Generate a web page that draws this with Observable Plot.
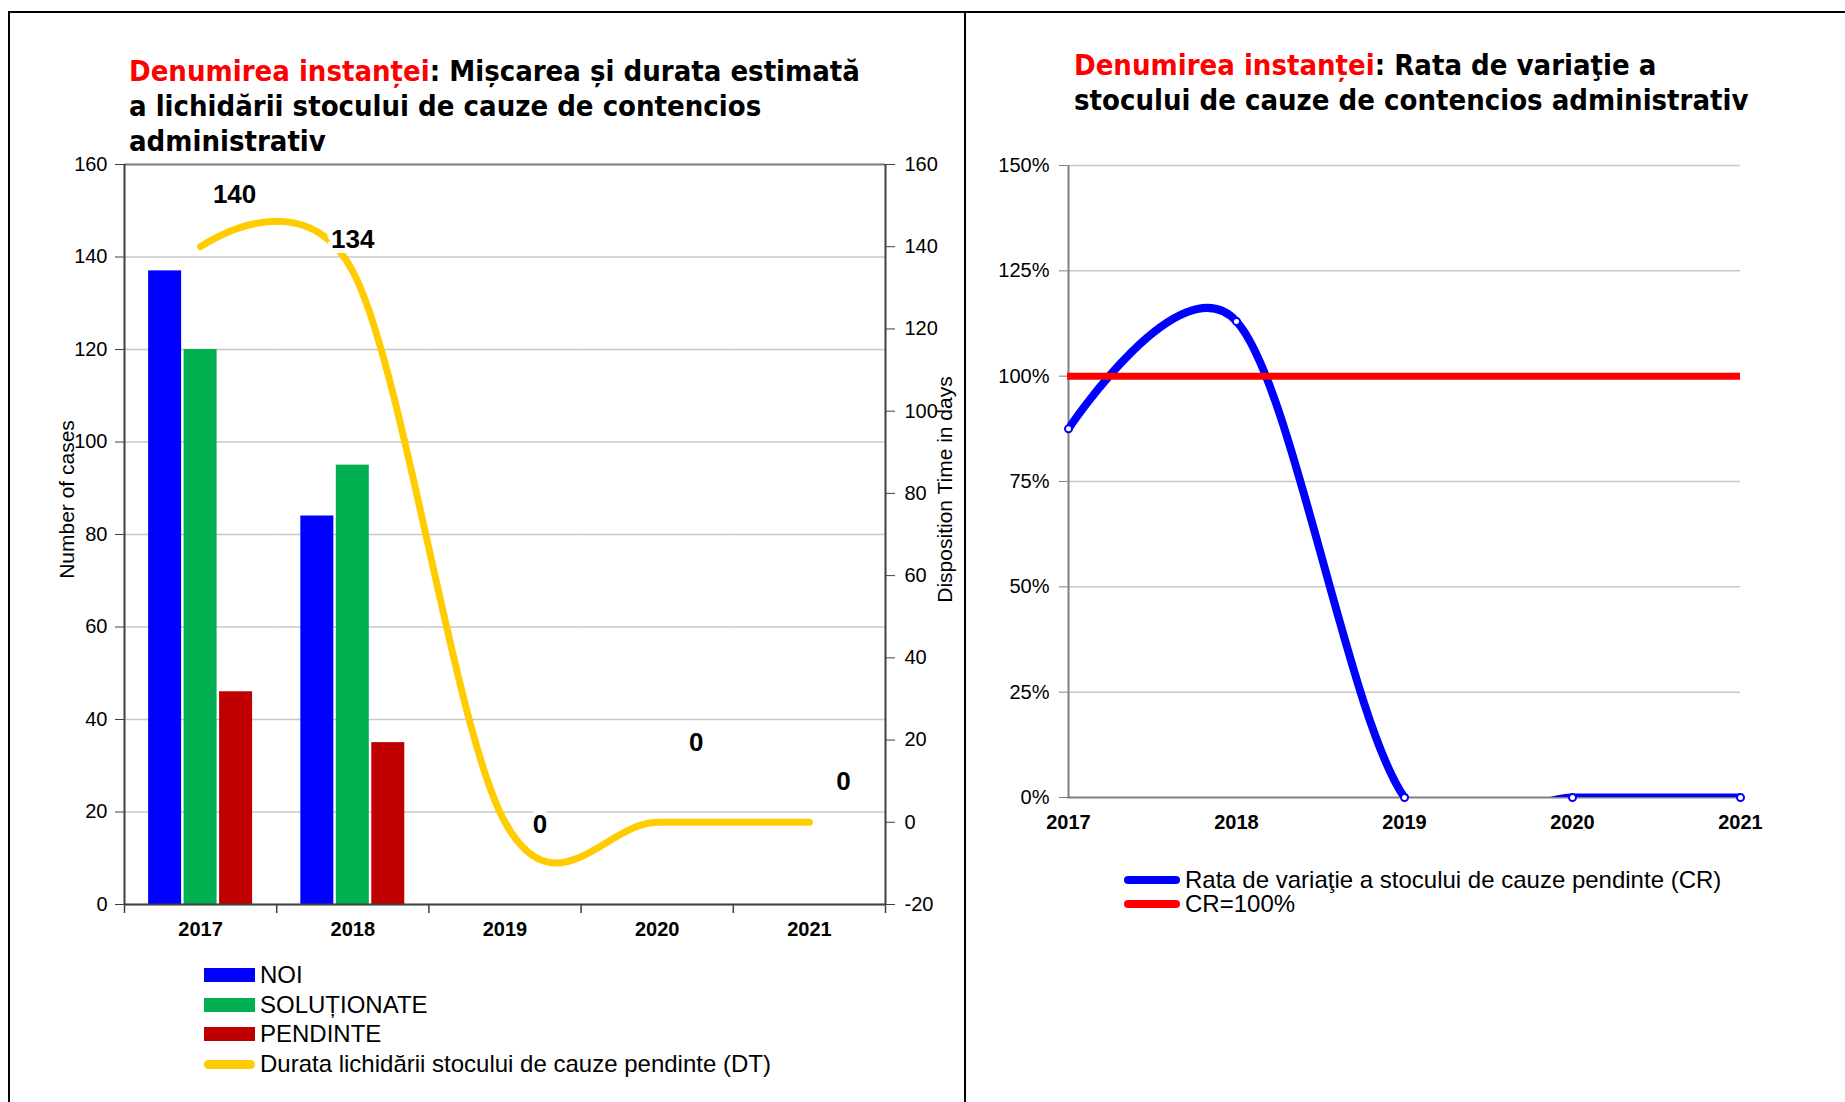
<!DOCTYPE html>
<html>
<head>
<meta charset="utf-8">
<script src="https://cdn.jsdelivr.net/npm/d3@7"></script>
<script src="https://cdn.jsdelivr.net/npm/@observablehq/plot@0.6"></script>
<style>
  html, body { margin: 0; padding: 0; background: #fff; }
  #page { position: relative; width: 1845px; height: 1102px; background: #fff; overflow: hidden; font-family: "Liberation Sans", Arial, sans-serif; }
  .abs { position: absolute; }
  .title { font-family: "DejaVu Sans Condensed", "DejaVu Sans", sans-serif; font-weight: bold; font-size: 29px; line-height: 35px; color: #000; white-space: nowrap; }
  .title .red { color: #ff0000; }
  .leg { font-family: "Liberation Sans", Arial, sans-serif; font-size: 24px; color: #000; white-space: nowrap; }
</style>
</head>
<body>
<div id="page">
  <div class="abs" style="left:9px;top:11px;width:1836px;height:2px;background:#000"></div>
  <div class="abs" style="left:8px;top:11px;width:2px;height:1091px;background:#000"></div>
  <div class="abs" style="left:964px;top:11px;width:2px;height:1091px;background:#000"></div>
  <div id="leftBars" class="abs" style="left:0;top:0"></div>
  <div id="leftMain" class="abs" style="left:0;top:0"></div>
  <div id="right" class="abs" style="left:965px;top:0"></div>
  <div id="titleL" class="abs title" style="left:129px;top:54px"></div>
  <div id="titleR" class="abs title" style="left:1074px;top:48px"></div>
  <div id="legL" class="abs"></div>
  <div id="legR" class="abs"></div>
</div>
<script>
// ---------------- data ----------------
const years = ["2017", "2018", "2019", "2020", "2021"];
const seriesNames = ["NOI", "SOLUȚIONATE", "PENDINTE"];
const noi = [137, 84, 0, 0, 0];
const solutionate = [120, 95, 0, 0, 0];
const pendinte = [46, 35, 0, 0, 0];
const dtName = "Durata lichidării stocului de cauze pendinte (DT)";
const dt = [140, 134, 0, 0, 0];
const leftTicks = [0, 20, 40, 60, 80, 100, 120, 140, 160];
const rightTicks = [-20, 0, 20, 40, 60, 80, 100, 120, 140, 160];
const crName = "Rata de variaţie a stocului de cauze pendinte (CR)";
const cr = [87.5, 113, 0, 0, 0];
const crRefName = "CR=100%";
const crRef = 100;
const pctTicks = [0, 25, 50, 75, 100, 125, 150];
const titleLeftRed = "Denumirea instanței";
const titleLeftLines = [": Mișcarea și durata estimată", "a lichidării stocului de cauze de contencios", "administrativ"];
const titleRightRed = "Denumirea instanței";
const titleRightLines = [": Rata de variaţie a", "stocului de cauze de contencios administrativ"];
const yLeftTitle = "Number of cases";
const yRightTitle = "Disposition Time in days";

// ---------------- styles ----------------
const barColors = ["#0000ff", "#00b050", "#c00000"];
const dtColor = "#ffcc00";
const crColor = "#0000ff";
const refColor = "#ff0000";
const FONT = "Liberation Sans, Arial, sans-serif";

// titles
document.getElementById("titleL").innerHTML =
  `<span class="red">${titleLeftRed}</span>${titleLeftLines[0]}<br>${titleLeftLines[1]}<br>${titleLeftLines[2]}`;
document.getElementById("titleR").innerHTML =
  `<span class="red">${titleRightRed}</span>${titleRightLines[0]}<br>${titleRightLines[1]}`;

// ---------------- left chart ----------------
const LW = 965, LH = 1000;
const LM = {top: 164, left: 124, right: 80, bottom: 96};
const seriesArrays = [noi, solutionate, pendinte];
const barData = [];
years.forEach((yr, i) => seriesNames.forEach((s, j) => barData.push({year: yr, series: s, value: seriesArrays[j][i]})));

const leftDomain = [0, 160];
const rightDomain = [-20, 160];
const toLeft = v => leftDomain[0] + (v - rightDomain[0]) * (leftDomain[1] - leftDomain[0]) / (rightDomain[1] - rightDomain[0]);
const fromLeft = v => rightDomain[0] + (v - leftDomain[0]) * (rightDomain[1] - rightDomain[0]) / (leftDomain[1] - leftDomain[0]);

const bars = Plot.plot({
  width: LW, height: LH,
  marginTop: LM.top, marginLeft: LM.left, marginRight: LM.right, marginBottom: LM.bottom,
  style: {background: "transparent", fontFamily: FONT},
  fx: {domain: years, padding: 0, axis: null, round: false},
  x: {domain: seriesNames, paddingInner: 0.07, paddingOuter: 0.68, axis: null, round: false},
  y: {domain: leftDomain, axis: null},
  color: {domain: seriesNames, range: barColors},
  marks: [
    Plot.gridY(leftTicks, {stroke: "#c8c8c8", strokeOpacity: 1, strokeWidth: 1.5}),
    Plot.barY(barData, {fx: "year", x: "series", y: "value", fill: "series", inset: 0})
  ]
});
document.getElementById("leftBars").appendChild(bars);

const bw = (LW - LM.left - LM.right) / years.length;
const dtData = years.map((yr, i) => ({year: yr, v: dt[i]}));
const labelDx = [34, 0, 35, 39, 34];
const labelDy = [-52, -32, 2, -80, -41];

const main = Plot.plot({
  width: LW, height: LH,
  marginTop: LM.top, marginLeft: LM.left, marginRight: LM.right, marginBottom: LM.bottom,
  style: {background: "transparent", fontFamily: FONT, fontSize: "20px", color: "#000"},
  x: {type: "band", domain: years, padding: 0, axis: null, round: false},
  y: {domain: leftDomain, axis: null},
  marks: [
    Plot.axisY(leftTicks, {anchor: "left", tickSize: 9, tickPadding: 8, label: null, stroke: "#404040", fontSize: 20}),
    Plot.axisY(rightTicks.map(toLeft), {anchor: "right", tickSize: 9, tickPadding: 10, label: null, stroke: "#404040", fontSize: 20,
      tickFormat: d => String(Math.round(fromLeft(d)))}),
    Plot.ruleX(years, {x: d => d, y1: 0, y2: 0, dx: -bw / 2, stroke: "#404040", strokeWidth: 1.5, insetBottom: -9}),
    Plot.ruleX(years.slice(-1), {x: d => d, y1: 0, y2: 0, dx: bw / 2, stroke: "#404040", strokeWidth: 1.5, insetBottom: -9}),
    Plot.ruleY([leftDomain[1]], {stroke: "#808080", strokeWidth: 2}),
    Plot.ruleX(years.slice(0, 1), {x: d => d, dx: -bw / 2, stroke: "#404040", strokeWidth: 2}),
    Plot.ruleX(years.slice(-1), {x: d => d, dx: bw / 2, stroke: "#404040", strokeWidth: 2}),
    Plot.ruleY([0], {stroke: "#404040", strokeWidth: 2}),
    Plot.text(years, {x: d => d, frameAnchor: "bottom", dy: 31, fontWeight: "bold", fontSize: 20, fill: "#000"}),
    Plot.line(dtData, {x: "year", y: d => toLeft(d.v), stroke: dtColor, strokeWidth: 7, curve: "cardinal", tension: 0, strokeLinecap: "round", strokeLinejoin: "round"}),
    ...dtData.map((d, i) => Plot.text([d], {x: "year", y: e => toLeft(e.v), text: e => String(e.v), dx: labelDx[i], dy: labelDy[i],
      fontWeight: "bold", fontSize: 26, fill: "#000", stroke: "#fff", strokeWidth: 10})),
    Plot.text([yLeftTitle], {frameAnchor: "left", textAnchor: "middle", rotate: -90, dx: -57, dy: -35, fontSize: 21, fill: "#000"}),
    Plot.text([yRightTitle], {frameAnchor: "right", textAnchor: "middle", rotate: -90, dx: 60, dy: -45, fontSize: 21, fill: "#000"})
  ]
});
document.getElementById("leftMain").appendChild(main);

// left legend
const legL = document.getElementById("legL");
const legRows = [975, 1005, 1034, 1064];
seriesNames.forEach((s, j) => {
  legL.insertAdjacentHTML("beforeend",
    `<div class="abs" style="left:204px;top:${legRows[j] - 7}px;width:51px;height:14px;background:${barColors[j]}"></div>` +
    `<div class="abs leg" style="left:260px;top:${legRows[j] - 14}px;line-height:28px">${s}</div>`);
});
legL.insertAdjacentHTML("beforeend",
  `<div class="abs" style="left:204px;top:${legRows[3] - 4.5}px;width:51px;height:9px;border-radius:5px;background:${dtColor}"></div>` +
  `<div class="abs leg" style="left:260px;top:${legRows[3] - 14}px;line-height:28px">${dtName}</div>`);

// ---------------- right chart ----------------
const RW = 880, RH = 900;
const crData = years.map((yr, i) => ({year: yr, v: cr[i]}));
const right = Plot.plot({
  width: RW, height: RH,
  marginTop: 165, marginLeft: 102, marginRight: 105, marginBottom: 103,
  style: {background: "transparent", fontFamily: FONT, fontSize: "20px", color: "#000"},
  x: {type: "point", domain: years, padding: 0, axis: null},
  y: {domain: [0, 150], axis: null},
  marks: [
    Plot.gridY(pctTicks.filter(d => d > 0), {stroke: "#c8c8c8", strokeOpacity: 1, strokeWidth: 1.5}),
    Plot.axisY(pctTicks, {anchor: "left", tickSize: 8, tickPadding: 10, label: null, stroke: "#808080", fontSize: 20, tickFormat: d => d + "%"}),
    Plot.ruleX(years.slice(0, 1), {x: d => d, stroke: "#808080", strokeWidth: 2}),
    Plot.ruleY([0], {stroke: "#808080", strokeWidth: 2}),
    Plot.text(years, {x: d => d, frameAnchor: "bottom", dy: 31, fontWeight: "bold", fontSize: 20, fill: "#000"}),
    Plot.line(crData, {x: "year", y: "v", stroke: crColor, strokeWidth: 8, curve: "cardinal", tension: 0, clip: true, strokeLinecap: "butt"}),
    Plot.dot(crData, {x: "year", y: "v", r: 3.5, fill: "#fff", stroke: crColor, strokeWidth: 2}),
    Plot.ruleY([crRef], {stroke: refColor, strokeWidth: 7})
  ]
});
document.getElementById("right").appendChild(right);

// right legend
const legR = document.getElementById("legR");
legR.insertAdjacentHTML("beforeend",
  `<div class="abs" style="left:1124px;top:876px;width:56px;height:8px;border-radius:4px;background:${crColor}"></div>` +
  `<div class="abs" style="left:1148px;top:876px;width:8px;height:8px;border-radius:4px;background:${crColor};border:0"></div>` +
  `<div class="abs leg" style="left:1185px;top:866px;line-height:28px">${crName}</div>` +
  `<div class="abs" style="left:1124px;top:900px;width:56px;height:8px;border-radius:4px;background:${refColor}"></div>` +
  `<div class="abs leg" style="left:1185px;top:890px;line-height:28px">${crRefName}</div>`);
</script>
</body>
</html>
